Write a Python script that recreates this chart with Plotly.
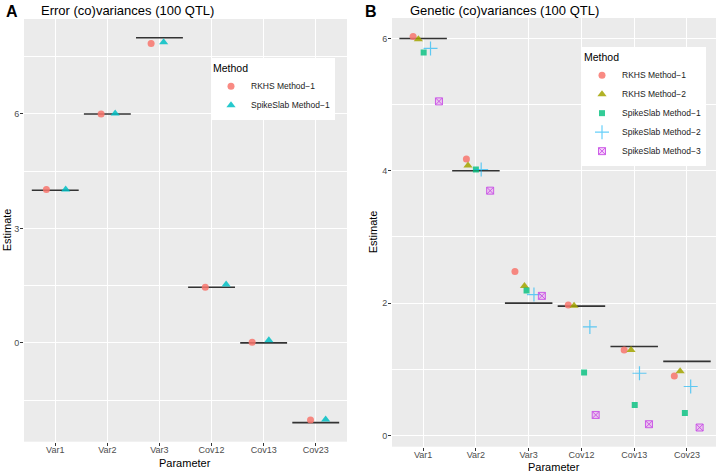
import plotly.graph_objects as go

params = ["Var1", "Var2", "Var3", "Cov12", "Cov13", "Cov23"]

# Panel A: error (co)variances
a_true = [4.0, 6.0, 8.0, 1.46, 0.0, -2.09]
a_rkhs1 = [4.02, 6.0, 7.85, 1.46, 0.02, -2.02]
a_spike1 = [4.02, 6.01, 7.88, 1.53, 0.07, -2.01]
a_jit_rkhs1 = [-0.17, -0.12, -0.16, -0.12, -0.22, -0.10]
a_jit_spike1 = [0.20, 0.15, 0.08, 0.28, 0.10, 0.19]

# Panel B: genetic (co)variances
b_true = [6.0, 4.0, 2.0, 1.955, 1.345, 1.12]
b_rkhs1 = [6.03, 4.18, 2.48, 1.97, 1.29, 0.90]
b_rkhs2 = [5.99, 4.08, 2.26, 1.96, 1.29, 0.97]
b_spike1 = [5.79, 4.02, 2.19, 0.95, 0.46, 0.34]
b_spike2 = [5.85, 4.02, 2.13, 1.64, 0.94, 0.74]
b_spike3 = [5.05, 3.70, 2.11, 0.31, 0.17, 0.12]
b_jit = {
    "rkhs1": [-0.19, -0.18, -0.26, -0.25, -0.19, -0.24],
    "rkhs2": [-0.09, -0.15, -0.08, -0.14, -0.06, -0.13],
    "spike1": [0.01, 0.00, -0.04, 0.05, 0.01, -0.04],
    "spike2": [0.14, 0.10, 0.10, 0.16, 0.10, 0.07],
    "spike3": [0.30, 0.27, 0.25, 0.27, 0.28, 0.24],
}

idx = list(range(1, len(params) + 1))
W = 720
H = 473
FONT = "Liberation Sans, Arial, sans-serif"


def seg(values):
    xs, ys = [], []
    for i, v in zip(idx, values):
        xs += [i - 0.45, i + 0.45, None]
        ys += [v, v, None]
    return xs, ys


def jx(jit):
    return [i + j for i, j in zip(idx, jit)]


fig = go.Figure()

# Truth lines
for vals, xa, ya in [(a_true, "x", "y"), (b_true, "x2", "y2")]:
    xs, ys = seg(vals)
    fig.add_trace(go.Scatter(x=xs, y=ys, mode="lines", xaxis=xa, yaxis=ya,
                             line=dict(color="#333333", width=1.6),
                             showlegend=False, hoverinfo="skip"))

# Panel A points
fig.add_trace(go.Scatter(x=jx(a_jit_rkhs1), y=a_rkhs1, mode="markers", name="RKHS Method\u22121",
                         xaxis="x", yaxis="y", legend="legend",
                         marker=dict(symbol="circle", size=7, color="#F8766D", opacity=0.85)))
fig.add_trace(go.Scatter(x=jx(a_jit_spike1), y=a_spike1, mode="markers", name="SpikeSlab Method\u22121",
                         xaxis="x", yaxis="y", legend="legend",
                         marker=dict(symbol="triangle-up", size=8, color="#00BFC4", opacity=0.85)))

# Panel B points
b_series = [
    ("RKHS Method\u22121", b_rkhs1, b_jit["rkhs1"], dict(symbol="circle", size=7, color="#F8766D", opacity=0.85)),
    ("RKHS Method\u22122", b_rkhs2, b_jit["rkhs2"], dict(symbol="triangle-up", size=8, color="#A3A500", opacity=0.85)),
    ("SpikeSlab Method\u22121", b_spike1, b_jit["spike1"], dict(symbol="square", size=6, color="#00BF7D", opacity=0.8)),
    ("SpikeSlab Method\u22122", b_spike2, b_jit["spike2"], dict(symbol="cross-thin-open", size=10, color="#00B0F6", opacity=0.6,
                                                         line=dict(color="#00B0F6", width=1.2))),
    ("SpikeSlab Method\u22123", b_spike3, b_jit["spike3"], dict(symbol="square-x", size=7, color="rgba(231,107,243,0.30)",
                                                         line=dict(color="rgba(200,80,230,0.9)", width=1))),
]
for name, vals, jit, mk in b_series:
    fig.add_trace(go.Scatter(x=jx(jit), y=vals, mode="markers", name=name,
                             xaxis="x2", yaxis="y2", legend="legend2", marker=mk))

tickfont = dict(family=FONT, size=9, color="#4D4D4D")
titlefont = dict(family=FONT, size=11, color="#000000")

common_x = dict(tickmode="array", tickvals=idx, ticktext=params, showgrid=True, gridcolor="white",
                gridwidth=1.1, zeroline=False, ticks="outside", ticklen=3, tickcolor="#333333",
                tickfont=tickfont, showline=False, automargin=False, ticklabelstandoff=-4)
common_y = dict(showgrid=True, gridcolor="white", gridwidth=1.1, zeroline=False, ticks="outside",
                ticklen=3, tickcolor="#333333", tickfont=tickfont, showline=False, automargin=False,
                ticklabelstandoff=-1)

A_L, A_R, A_T, A_B = 24, 347, 19, 441.7
B_L, B_R, B_T, B_B = 392, 716, 18, 446.7

fig.update_layout(
    template="none",
    width=W, height=H,
    margin=dict(l=0, r=0, t=0, b=0),
    paper_bgcolor="white",
    plot_bgcolor="#EBEBEB",
    font=dict(family=FONT),
    xaxis=dict(common_x, domain=[A_L / W, A_R / W], range=[0.4, 6.6], anchor="y"),
    yaxis=dict(common_y, domain=[1 - A_B / H, 1 - A_T / H], range=[-2.59, 8.49],
               tickvals=[0, 3, 6], minor=dict(dtick=1.5, tick0=0, gridcolor="white", gridwidth=0.5, showgrid=True, ticks=""),
               anchor="x"),
    xaxis2=dict(common_x, domain=[B_L / W, B_R / W], range=[0.41, 6.55], anchor="y2"),
    yaxis2=dict(common_y, domain=[1 - B_B / H, 1 - B_T / H], range=[-0.17, 6.31],
                tickvals=[0, 2, 4, 6], minor=dict(dtick=1, tick0=0, gridcolor="white", gridwidth=0.5, showgrid=True, ticks=""),
                anchor="x2"),
    legend=dict(x=211 / W, y=1 - 58 / H, xanchor="left", yanchor="top", bgcolor="white",
                title=dict(text="Method", font=dict(family=FONT, size=10.5, color="#000")),
                font=dict(family=FONT, size=8.5, color="#222"), tracegroupgap=0, itemsizing="trace",
                itemwidth=30),
    legend2=dict(x=582 / W, y=1 - 47 / H, xanchor="left", yanchor="top", bgcolor="white",
                 title=dict(text="Method", font=dict(family=FONT, size=10.5, color="#000")),
                 font=dict(family=FONT, size=8.5, color="#222"), tracegroupgap=0, itemsizing="trace",
                 itemwidth=30),
    annotations=[
        dict(text="<b>A</b>", x=4 / W, y=1 - 1 / H, xref="paper", yref="paper", xanchor="left", yanchor="top",
             showarrow=False, font=dict(family=FONT, size=16, color="black")),
        dict(text="Error (co)variances (100 QTL)", x=39 / W, y=1 - 1 / H, xref="paper", yref="paper",
             xanchor="left", yanchor="top", showarrow=False, font=dict(family=FONT, size=13, color="black")),
        dict(text="<b>B</b>", x=363 / W, y=1 - 1 / H, xref="paper", yref="paper", xanchor="left", yanchor="top",
             showarrow=False, font=dict(family=FONT, size=16, color="black")),
        dict(text="Genetic (co)variances (100 QTL)", x=408 / W, y=1 - 1 / H, xref="paper", yref="paper",
             xanchor="left", yanchor="top", showarrow=False, font=dict(family=FONT, size=13, color="black")),
        dict(text="Parameter", x=(A_L + A_R) / 2 / W, y=1 - 463 / H, xref="paper", yref="paper",
             xanchor="center", yanchor="middle", showarrow=False, font=titlefont),
        dict(text="Parameter", x=(B_L + B_R) / 2 / W, y=1 - 466.5 / H, xref="paper", yref="paper",
             xanchor="center", yanchor="middle", showarrow=False, font=titlefont),
        dict(text="Estimate", x=7 / W, y=1 - (A_T + A_B) / 2 / H, xref="paper", yref="paper",
             xanchor="center", yanchor="middle", showarrow=False, textangle=-90, font=titlefont),
        dict(text="Estimate", x=373 / W, y=1 - (B_T + B_B) / 2 / H, xref="paper", yref="paper",
             xanchor="center", yanchor="middle", showarrow=False, textangle=-90, font=titlefont),
    ],
)

fig.write_html("out.html", config={"displayModeBar": False},
               post_script="document.body.style.margin='0';document.body.style.padding='0';"
                           "document.body.style.overflow='hidden';")
